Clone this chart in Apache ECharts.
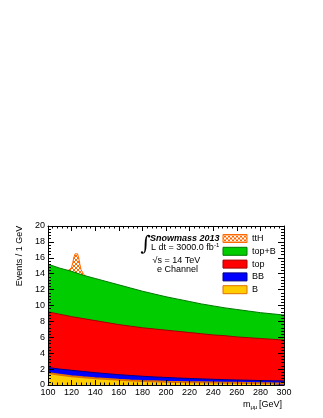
<!DOCTYPE html>
<html>
<head>
<meta charset="utf-8">
<script src="https://cdn.jsdelivr.net/npm/echarts@6/dist/echarts.min.js"></script>
<style>
  html, body { margin: 0; padding: 0; background: #fff; }
  #chart { width: 323px; height: 418px; }
</style>
</head>
<body>
<div id="chart"></div>
<script>
// m_mumu bins (GeV) and the stacked background components, bottom to top
var mass = [100, 110, 120, 130, 140, 150, 160, 170, 180, 190, 200, 210, 220, 230, 240, 250, 260, 270, 280, 290, 300]
var bkgB = [1.5, 1.3, 1.1, 0.97, 0.85, 0.75, 0.65, 0.57, 0.5, 0.46, 0.42, 0.39, 0.36, 0.34, 0.32, 0.29, 0.27, 0.25, 0.23, 0.21, 0.2]
var bkgBB = [0.7, 0.7, 0.75, 0.73, 0.7, 0.67, 0.65, 0.63, 0.6, 0.56, 0.53, 0.49, 0.46, 0.43, 0.4, 0.38, 0.36, 0.35, 0.33, 0.32, 0.3]
var bkgTop = [7.0, 6.9, 6.75, 6.65, 6.55, 6.43, 6.3, 6.2, 6.1, 6.03, 5.95, 5.87, 5.78, 5.68, 5.58, 5.53, 5.42, 5.35, 5.29, 5.22, 5.15]
var bkgTopB = [6.0, 5.8, 5.7, 5.45, 5.3, 5.15, 5.0, 4.8, 4.6, 4.4, 4.2, 4.05, 3.9, 3.75, 3.65, 3.5, 3.45, 3.35, 3.25, 3.2, 3.15]
// ttH peak, total height (signal on top of the stack)
var sigMass = [116, 118, 120, 121, 122, 123, 125, 126, 127, 128, 130, 132]
var sigTotal = [14.3, 14.5, 14.8, 15.4, 16.1, 16.5, 16.5, 16.0, 15.2, 14.5, 14.0, 13.6]

var FONT = 'Liberation Sans'

function hatch() { // orange cross hatch like ROOT fill style
  var c = document.createElement('canvas')
  c.width = 4
  c.height = 4
  var g = c.getContext('2d')
  g.fillStyle = '#ffffff'
  g.fillRect(0, 0, 4, 4)
  g.strokeStyle = '#ff6a00'
  g.lineWidth = 1
  g.beginPath()
  g.moveTo(0, 0); g.lineTo(4, 4)
  g.moveTo(4, 0); g.lineTo(0, 4)
  g.stroke()
  return { image: c, repeat: 'repeat' }
}
var hatchFill = hatch()

// running sums of the stack, each area is filled down to zero and drawn over the bigger ones
var layers = [bkgB, bkgBB, bkgTop, bkgTopB]
var cum = []
layers.forEach(function(vals, k) {
  cum.push(vals.map(function(v, i) { return v + (k ? cum[k - 1][i] : 0) }))
})

function bkgSeries(name, k, fill, edge, w) {
  return {
    name: name,
    type: 'line',
    z: 10 - k,
    symbol: 'none',
    silent: true,
    data: mass.map(function(m, i) { return [m, cum[k][i]] }),
    lineStyle: { color: edge, width: w },
    itemStyle: { color: fill, borderColor: edge, borderWidth: 1 },
    areaStyle: { color: fill, opacity: 1, origin: 'start' }
  }
}

function axisX(pos) {
  return {
    type: 'value', min: 100, max: 300, interval: 20, position: pos,
    axisLine: { onZero: false, lineStyle: { color: '#000', width: 1 } },
    axisTick: { inside: true, length: 5, lineStyle: { color: '#000' } },
    minorTick: { show: true, splitNumber: 5, length: 2.5, lineStyle: { color: '#000' } },
    axisLabel: { show: pos === 'bottom', margin: 3, fontSize: 9, color: '#000', fontFamily: FONT },
    splitLine: { show: false },
    z: 20
  }
}
function axisY(pos) {
  return {
    type: 'value', min: 0, max: 20, interval: 2, position: pos,
    axisLine: { show: true, onZero: false, lineStyle: { color: '#000', width: 1 } },
    axisTick: { inside: true, length: 6, lineStyle: { color: '#000' } },
    minorTick: { show: true, splitNumber: 5, length: 3, lineStyle: { color: '#000' } },
    axisLabel: { show: pos === 'left', margin: 3, fontSize: 9, color: '#000', fontFamily: FONT },
    splitLine: { show: false },
    z: 20
  }
}

function txt(x, y, s, size, extra) {
  var st = { text: s, fontSize: size, fontFamily: FONT, fill: '#000', align: 'left', verticalAlign: 'middle' }
  for (var k in extra) st[k] = extra[k]
  return { type: 'text', x: x, y: y, style: st, z: 30 }
}

var yName = txt(20, 256, 'Events / 1 GeV', 9, { align: 'center' })
yName.rotation = Math.PI / 2

var chart = echarts.init(document.getElementById('chart'))
chart.setOption({
  animation: false,
  backgroundColor: '#fff',
  grid: { left: 48, right: 39, top: 226, bottom: 33 },
  xAxis: [axisX('bottom'), axisX('top')],
  yAxis: [axisY('left'), axisY('right')],
  legend: {
    orient: 'vertical',
    left: 222.5,
    top: 234,
    padding: 0,
    itemWidth: 24,
    itemHeight: 8,
    itemGap: 3.8,
    icon: 'rect',
    selectedMode: false,
    textStyle: { fontSize: 9, color: '#000', fontFamily: FONT },
    data: [
      { name: 'ttH', itemStyle: { color: hatchFill, borderColor: '#ff6a00', borderWidth: 1 } },
      { name: 'top+B', itemStyle: { color: '#00cc00', borderColor: '#007a00', borderWidth: 1 } },
      { name: 'top', itemStyle: { color: '#ff0000', borderColor: '#a00000', borderWidth: 1 } },
      { name: 'BB', itemStyle: { color: '#0000ff', borderColor: '#00008a', borderWidth: 1 } },
      { name: 'B', itemStyle: { color: '#ffcc00', borderColor: '#e07000', borderWidth: 1 } }
    ]
  },
  graphic: [
    txt(140.5, 245, '\u222B', 20, { fontFamily: 'DejaVu Serif' }),
    txt(150, 238.5, 'Snowmass 2013', 9, { fontWeight: 'bold', fontStyle: 'italic' }),
    txt(151, 248, 'L dt = 3000.0 fb', 9),
    txt(214, 245, '-1', 6),
    txt(152.5, 261, '\u221As = 14 TeV', 9),
    txt(157, 269.5, 'e Channel', 9),
    yName,
    txt(243, 405, 'm', 9),
    txt(250.5, 407, '\u03BC\u03BC', 6),
    txt(259, 405, '[GeV]', 9)
  ],
  series: [
    {
      name: 'ttH',
      type: 'line',
      z: 2,
      symbol: 'none',
      silent: true,
      data: sigMass.map(function(m, i) { return [m, sigTotal[i]] }),
      lineStyle: { color: '#ff6a00', width: 1 },
      itemStyle: { color: hatchFill, borderColor: '#ff6a00' },
      areaStyle: { color: hatchFill, opacity: 1, origin: 'start' }
    },
    bkgSeries('B', 0, '#ffcc00', '#e07000', 2),
    bkgSeries('BB', 1, '#0000ff', '#00008a', 1),
    bkgSeries('top', 2, '#ff0000', '#a00000', 1),
    bkgSeries('top+B', 3, '#00cc00', '#007a00', 1)
  ]
})
</script>
</body>
</html>
